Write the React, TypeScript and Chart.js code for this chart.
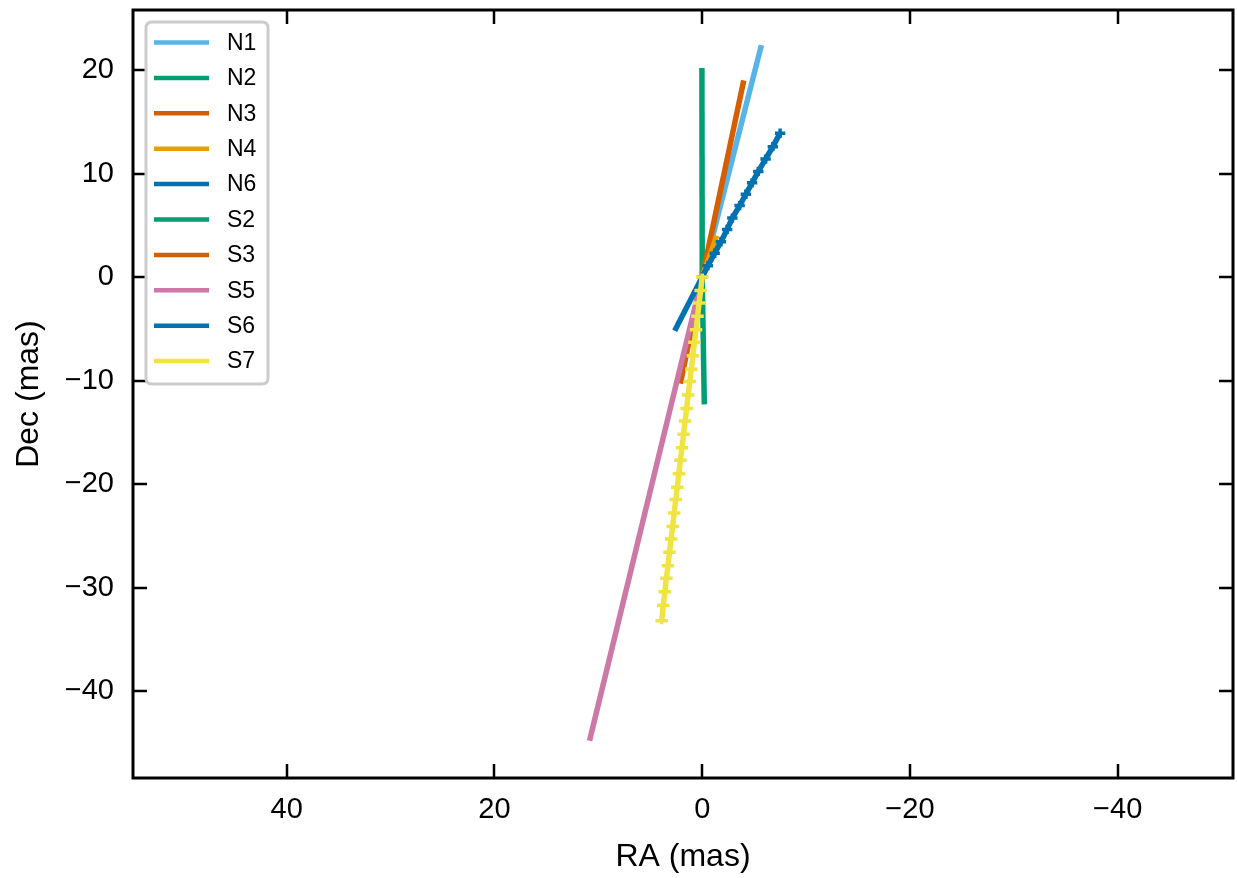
import React, { useEffect, useRef } from "react";
import { Chart, registerables } from "chart.js";
Chart.register(...registerables);

// ---- Data (mas) ----
const seriesNames = ["N1", "N2", "N3", "N4", "N6", "S2", "S3", "S5", "S6", "S7"];
const seriesColors = ["#56B4E9", "#009E73", "#D55E00", "#E69F00", "#0072B2", "#009E73", "#D55E00", "#CC79A7", "#0072B2", "#F0E442"];

const n1RA = [0, -5.7];
const n1Dec = [0, 22.4];
const n2RA = [0, 0.03];
const n2Dec = [0, 20.2];
const n3RA = [0, -4.0];
const n3Dec = [0, 19.0];
const n4RA = [0, -1.4];
const n4Dec = [0, 4.0];
const n6RA = [0, -0.55, -1.2, -1.8, -2.4, -2.9, -3.6, -4.2, -4.8, -5.4, -6.1, -6.8, -7.5];
const n6Dec = [0, 1.1, 2.3, 3.4, 4.6, 5.7, 6.9, 8.0, 9.1, 10.2, 11.4, 12.6, 13.9];
const s2RA = [0, -0.2];
const s2Dec = [0, -12.3];
const s3RA = [0, 2.1];
const s3Dec = [0, -10.3];
const s5RA = [0, 10.85];
const s5Dec = [0, -44.8];
const s6RA = [0, 2.65];
const s6Dec = [0, -5.2];
const s7RA = [0, 0.15, 0.3, 0.45, 0.6, 0.75, 0.9, 1.05, 1.2, 1.35, 1.5, 1.65, 1.8, 1.95, 2.1, 2.25, 2.4, 2.55, 2.7, 2.85, 3.0, 3.15, 3.3, 3.45, 3.6, 3.75, 3.9];
const s7Dec = [0, -1.3, -2.5, -3.8, -5.1, -6.3, -7.6, -8.9, -10.1, -11.4, -12.7, -13.9, -15.2, -16.5, -17.7, -19.0, -20.3, -21.5, -22.8, -24.1, -25.3, -26.6, -27.9, -29.1, -30.4, -31.7, -33.2];

const seriesRA = [n1RA, n2RA, n3RA, n4RA, n6RA, s2RA, s3RA, s5RA, s6RA, s7RA];
const seriesDec = [n1Dec, n2Dec, n3Dec, n4Dec, n6Dec, s2Dec, s3Dec, s5Dec, s6Dec, s7Dec];
const seriesErrRA = [0, 0, 0, 0, 0.5, 0, 0, 0, 0, 0.6];
const seriesErrDec = [0, 0, 0, 0, 0.45, 0, 0, 0, 0, 0.35];

const xTicks = [40, 20, 0, -20, -40];
const yTicks = [20, 10, 0, -10, -20, -30, -40];
const xMin = -51.1;
const xMax = 54.8;
const yMin = -48.4;
const yMax = 25.8;

const FONT = "'Liberation Sans', Arial, Helvetica, sans-serif";

const fmt = (v: number) => (v < 0 ? "\u2212" + Math.abs(v) : String(v));

const errorBarPlugin = {
  id: "errbars",
  afterDatasetDraw(chart: any, args: any) {
    const ds = chart.data.datasets[args.index];
    const ex = ds.errRA || 0;
    const ey = ds.errDec || 0;
    if (!ex && !ey) return;
    const { ctx, scales } = chart;
    const x = scales.x;
    const y = scales.y;
    ctx.save();
    ctx.strokeStyle = ds.borderColor;
    ctx.lineWidth = 3.5;
    ds.data.forEach((p: any) => {
      const px = x.getPixelForValue(p.x);
      const py = y.getPixelForValue(p.y);
      ctx.beginPath();
      if (ex) {
        ctx.moveTo(x.getPixelForValue(p.x - ex), py);
        ctx.lineTo(x.getPixelForValue(p.x + ex), py);
      }
      if (ey) {
        ctx.moveTo(px, y.getPixelForValue(p.y - ey));
        ctx.lineTo(px, y.getPixelForValue(p.y + ey));
      }
      ctx.stroke();
    });
    ctx.restore();
  },
};

const framePlugin = {
  id: "frameTicksLegend",
  afterDraw(chart: any) {
    const { ctx, chartArea: a, scales } = chart;
    const x = scales.x;
    const y = scales.y;
    const L = 14;
    ctx.save();
    ctx.strokeStyle = "#000";
    ctx.lineWidth = 2.5;
    x.ticks.forEach((t: any) => {
      const px = Math.round(x.getPixelForValue(t.value));
      ctx.beginPath();
      ctx.moveTo(px, a.bottom);
      ctx.lineTo(px, a.bottom - L);
      ctx.moveTo(px, a.top);
      ctx.lineTo(px, a.top + L);
      ctx.stroke();
    });
    y.ticks.forEach((t: any) => {
      const py = Math.round(y.getPixelForValue(t.value));
      ctx.beginPath();
      ctx.moveTo(a.left, py);
      ctx.lineTo(a.left + L, py);
      ctx.moveTo(a.right, py);
      ctx.lineTo(a.right - L, py);
      ctx.stroke();
    });
    ctx.lineWidth = 3;
    ctx.strokeRect(a.left, a.top, a.right - a.left, a.bottom - a.top);

    // legend
    const bx = a.left + 13;
    const by = a.top + 12;
    const bw = 122;
    const bh = 362;
    const r = 6;
    ctx.beginPath();
    ctx.moveTo(bx + r, by);
    ctx.lineTo(bx + bw - r, by);
    ctx.quadraticCurveTo(bx + bw, by, bx + bw, by + r);
    ctx.lineTo(bx + bw, by + bh - r);
    ctx.quadraticCurveTo(bx + bw, by + bh, bx + bw - r, by + bh);
    ctx.lineTo(bx + r, by + bh);
    ctx.quadraticCurveTo(bx, by + bh, bx, by + bh - r);
    ctx.lineTo(bx, by + r);
    ctx.quadraticCurveTo(bx, by, bx + r, by);
    ctx.closePath();
    ctx.fillStyle = "rgba(255,255,255,0.85)";
    ctx.fill();
    ctx.strokeStyle = "#cccccc";
    ctx.lineWidth = 3;
    ctx.stroke();

    ctx.font = `23px ${FONT}`;
    ctx.textBaseline = "middle";
    ctx.textAlign = "left";
    chart.data.datasets.forEach((ds: any, i: number) => {
      const cy = by + 20.5 + i * 35.4;
      ctx.strokeStyle = ds.borderColor;
      ctx.lineWidth = 4.5;
      ctx.beginPath();
      ctx.moveTo(bx + 8, cy);
      ctx.lineTo(bx + 63, cy);
      ctx.stroke();
      ctx.fillStyle = "#000";
      ctx.fillText(ds.label, bx + 81, cy + 1);
    });
    ctx.restore();
  },
};

const zeroPad = (s: any) => {
  s.paddingTop = 0;
  s.paddingBottom = 0;
  s.paddingLeft = 0;
  s.paddingRight = 0;
};

export default function App() {
  const ref = useRef<HTMLCanvasElement | null>(null);
  useEffect(() => {
    if (!ref.current) return;
    const datasets = seriesNames.map((name, i) => ({
      label: name,
      data: seriesRA[i].map((v, k) => ({ x: v, y: seriesDec[i][k] })),
      borderColor: seriesColors[i],
      backgroundColor: seriesColors[i],
      borderWidth: 5.5,
      pointRadius: 0,
      showLine: true,
      fill: false,
      order: 20 - i,
      errRA: seriesErrRA[i],
      errDec: seriesErrDec[i],
    }));
    const chart = new Chart(ref.current, {
      type: "scatter",
      data: { datasets: datasets as any },
      options: {
        responsive: false,
        animation: false,
        layout: { padding: { top: 10, right: 4, left: 0, bottom: 0 } },
        plugins: { legend: { display: false }, tooltip: { enabled: false } },
        scales: {
          x: {
            type: "linear",
            reverse: true,
            min: xMin,
            max: xMax,
            afterBuildTicks: (s: any) => {
              s.ticks = xTicks.map((v) => ({ value: v }));
            },
            afterFit: (s: any) => {
              s.height = 100;
              zeroPad(s);
            },
            grid: { display: false, drawTicks: false },
            border: { display: false },
            ticks: {
              color: "#000",
              padding: 15,
              maxRotation: 0,
              font: { family: FONT, size: 29 },
              callback: (v: any) => fmt(Number(v)),
            },
            title: {
              display: true,
              text: "RA (mas)",
              color: "#000",
              font: { family: FONT, size: 32 },
              padding: { top: 0, bottom: 2 },
            },
          },
          y: {
            type: "linear",
            min: yMin,
            max: yMax,
            afterBuildTicks: (s: any) => {
              s.ticks = yTicks.map((v) => ({ value: v }));
            },
            afterFit: (s: any) => {
              s.width = 133;
              zeroPad(s);
            },
            grid: { display: false, drawTicks: false },
            border: { display: false },
            ticks: {
              color: "#000",
              padding: 19,
              font: { family: FONT, size: 29 },
              callback: (v: any) => fmt(Number(v)),
            },
            title: {
              display: true,
              text: "Dec (mas)",
              color: "#000",
              font: { family: FONT, size: 32 },
              padding: { top: 10, bottom: 0 },
            },
          },
        },
      },
      plugins: [errorBarPlugin, framePlugin],
    });
    return () => chart.destroy();
  }, []);
  return (
    <div style={{ position: "fixed", left: 0, top: 0, width: 1237, height: 878, background: "#fff" }}>
      <canvas ref={ref} width={1237} height={878} style={{ width: 1237, height: 878, display: "block" }} />
    </div>
  );
}
